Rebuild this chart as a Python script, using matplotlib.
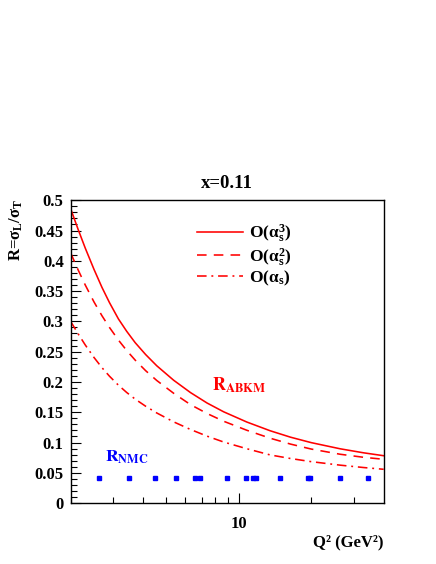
import numpy as np
import matplotlib
matplotlib.use('Agg')
import matplotlib.pyplot as plt
from matplotlib.ticker import FixedLocator, NullFormatter, MultipleLocator

# values
q2 = [2, 2.15, 2.3, 2.5, 2.7, 2.9, 3.16, 3.42, 3.71, 4.1, 4.56, 5.36, 6.3, 7.38, 8.65,
      10.8, 13.5, 16.4, 20, 26.4, 33, 40]
r_a3 = [0.486, 0.4515, 0.421, 0.386, 0.356, 0.331, 0.304, 0.2836, 0.2648, 0.2452, 0.2267,
        0.2028, 0.1824, 0.1652, 0.1507, 0.1338, 0.1194, 0.1088, 0.0998, 0.0896, 0.083, 0.0782]
r_a2 = [0.413, 0.3847, 0.3601, 0.3322, 0.3092, 0.290, 0.2691, 0.2519, 0.236, 0.2186, 0.2024,
        0.1813, 0.1625, 0.1479, 0.1351, 0.1202, 0.1071, 0.0974, 0.0892, 0.0806, 0.0756, 0.0723]
r_a1 = [0.300, 0.2793, 0.2611, 0.2405, 0.2235, 0.2095, 0.1946, 0.1826, 0.1716, 0.1599, 0.1488,
        0.1341, 0.1215, 0.1105, 0.1008, 0.0897, 0.0795, 0.0736, 0.0684, 0.0626, 0.0587, 0.0558]

nmc_q2 = [2.63, 3.49, 4.49, 5.49, 6.6, 6.92, 8.93, 10.74, 11.41, 11.74, 14.87, 19.3, 19.8, 26.4, 34.4]
nmc_r = [0.042] * len(nmc_q2)

plt.rcParams['font.family'] = ['Liberation Serif', 'DejaVu Serif']
plt.rcParams['font.weight'] = 'bold'
plt.rcParams['mathtext.fontset'] = 'stix'
plt.rcParams['mathtext.default'] = 'regular'

fig = plt.figure(figsize=(4.36, 5.64), dpi=100)
ax = fig.add_axes([0.162, 0.108, 0.718, 0.537])

ax.plot(q2, r_a3, color='red', lw=1.15, ls='-', label=r'O($\alpha_s^3$)')
ax.plot(q2, r_a2, color='red', lw=1.15, ls=(0, (6, 4.5)), label=r'O($\alpha_s^2$)')
ax.plot(q2, r_a1, color='red', lw=1.15, ls=(0, (6, 3, 1.2, 3)), label=r'O($\alpha_s$)')
ax.plot(nmc_q2, nmc_r, ls='none', marker='s', ms=3.5, color='blue')

ax.set_xscale('log')
ax.set_xlim(2, 40)
ax.set_ylim(0, 0.5)

ax.xaxis.set_major_locator(FixedLocator([10]))
ax.xaxis.set_minor_locator(FixedLocator([2, 3, 4, 5, 6, 7, 8, 9, 20, 30]))
ax.xaxis.set_minor_formatter(NullFormatter())
ax.set_xticklabels(['10'])
ax.set_yticks(np.arange(0, 0.51, 0.05))
ax.yaxis.set_minor_locator(MultipleLocator(0.01))
ax.set_yticklabels(['0', '0.05', '0.1', '0.15', '0.2', '0.25', '0.3', '0.35', '0.4', '0.45', '0.5'])
ax.tick_params(which='both', direction='in', top=False, right=False, labelsize=12, width=0.8)
ax.tick_params(which='major', length=7, pad=5)
ax.tick_params(which='minor', length=4)
ax.tick_params(axis='x', pad=9)
for sp in ax.spines.values():
    sp.set_linewidth(1.0)

ax.set_title('x=0.11', fontsize=13.5, fontweight='bold', pad=9)
ax.set_xlabel('Q² (GeV²)', loc='right', fontsize=12, fontweight='bold', labelpad=2)
fig.text(0.037, 0.647, r'R=$\sigma_L/\sigma_T$', rotation=90, ha='center', va='top',
         fontsize=12, fontweight='bold')

ax.text(7.75, 0.186, r'$\mathbf{R_{ABKM}}$', color='red', fontsize=13)
ax.text(2.79, 0.068, r'$\mathbf{R_{NMC}}$', color='blue', fontsize=12.5)

ax.legend(loc='upper left', bbox_to_anchor=(0.405, 0.927), frameon=False, fontsize=12.5,
          handlelength=2.6, handletextpad=0.4, labelspacing=0.08, borderpad=0, borderaxespad=0)

fig.savefig('out.png', dpi=100)
